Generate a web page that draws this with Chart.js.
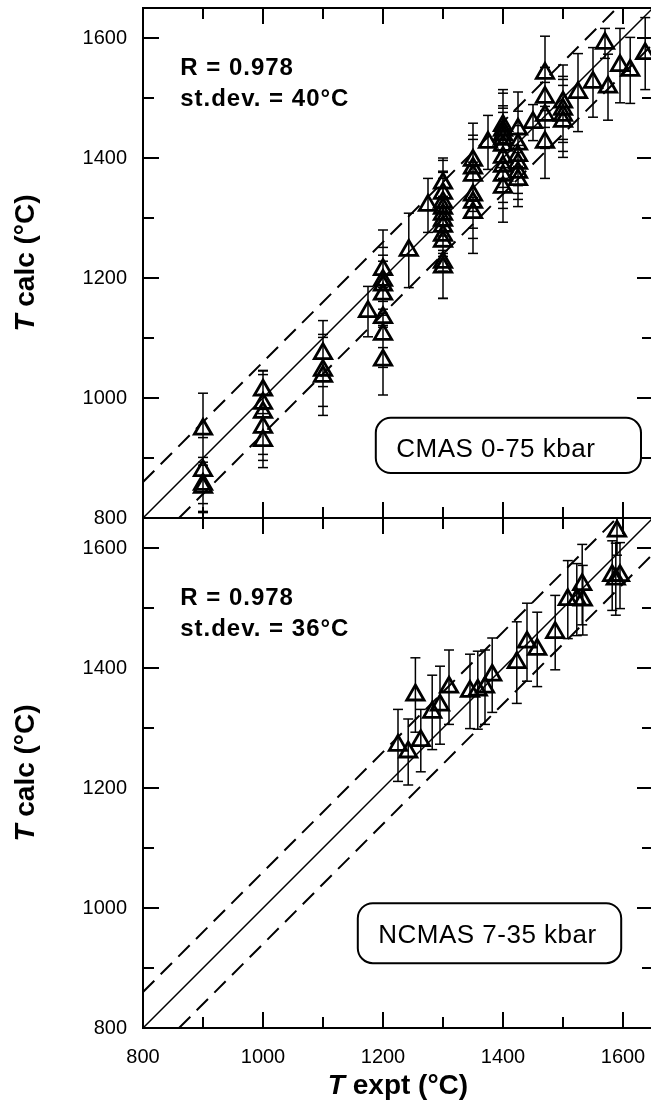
<!DOCTYPE html>
<html>
<head>
<meta charset="utf-8">
<script src="https://cdn.jsdelivr.net/npm/chart.js@4.4.0/dist/chart.umd.min.js"></script>
<style>
	html, body { margin: 0; padding: 0; background: #fff; overflow: hidden; }
	#wrap { position: relative; width: 651px; height: 1103px; overflow: hidden; }
	.panel { position: absolute; left: 0; width: 660px; }
	#panel_top { top: 0; height: 530px; }
	#panel_bottom { top: 510px; height: 593px; }
</style>
</head>
<body>
<div id="wrap">
	<div class="panel" id="panel_top"><canvas id="cmas_chart"></canvas></div>
	<div class="panel" id="panel_bottom"><canvas id="ncmas_chart"></canvas></div>
</div>
<script>
// axis range and tick marks (same for both panels and both axes)
const axisMin = 800;
const axisMax = 1650;
const tickValues = [800, 900, 1000, 1100, 1200, 1300, 1400, 1500, 1600];

// 1:1 line and the +/- band shown dashed
const oneToOne = [800, 1650];
const bandOffset = 60;

// CMAS 0-75 kbar : experimental T, calculated T, error bar half-length
const cmasExpt = [
	900, 900, 900, 900,
	1000, 1000, 1000, 1000, 1000,
	1100, 1100, 1100,
	1175,
	1200, 1200, 1200, 1200, 1200, 1200, 1200,
	1243, 1275,
	1300, 1300, 1300, 1300, 1300, 1300, 1300, 1300, 1300, 1300, 1300,
	1350, 1350, 1350, 1350, 1350, 1350,
	1375,
	1400, 1400, 1400, 1400, 1400, 1400, 1400, 1400, 1400,
	1425, 1425, 1425, 1425, 1425, 1425,
	1450,
	1470, 1470, 1470, 1470,
	1500, 1500, 1500, 1500,
	1525, 1550, 1570, 1575, 1595, 1612, 1637
];
const cmasCalc = [
	948, 879, 856, 851,
	1013, 991, 976, 951, 929,
	1074, 1046, 1036,
	1144,
	1214, 1196, 1188, 1173, 1134, 1106, 1063,
	1246, 1321,
	1358, 1341, 1326, 1316, 1306, 1296, 1286, 1271, 1261, 1226, 1218,
	1396, 1383, 1371, 1338, 1326, 1309,
	1426,
	1454, 1446, 1439, 1431, 1421, 1401, 1386, 1371, 1351,
	1448, 1423, 1404, 1391, 1376, 1364,
	1459,
	1541, 1501, 1471, 1426,
	1493, 1481, 1471, 1461,
	1509, 1526, 1591, 1518, 1554, 1546, 1574
];
const cmasErr = [
	60, 55, 45, 42,
	32, 48, 70, 55, 45,
	55, 60, 65,
	42,
	66, 55, 50, 55, 50, 55, 58,
	62, 45,
	42, 55, 50, 62, 60, 55, 50, 60, 50, 60, 52,
	62, 55, 60, 55, 60, 68,
	45,
	60, 62, 48, 52, 55, 50, 60, 55, 58,
	62, 55, 50, 50, 45, 45,
	30,
	62, 50, 55, 60,
	62, 55, 60, 60,
	65, 58, 25, 55, 62, 55, 60
];

// NCMAS 7-35 kbar
const ncmasExpt = [
	1225, 1242, 1263, 1254, 1282, 1295, 1310, 1345, 1358, 1370, 1382,
	1423, 1440, 1457, 1487, 1508, 1523, 1532, 1533, 1582, 1595, 1588, 1590
];
const ncmasCalc = [
	1271, 1260, 1279, 1355, 1326, 1338, 1368, 1361, 1363, 1368, 1388,
	1409, 1443, 1431, 1459, 1514, 1514, 1539, 1513, 1554, 1554, 1548, 1628
];
const ncmasErr = [
	60, 55, 52, 62, 62, 65, 62, 62, 65, 62, 62,
	68, 65, 62, 62, 65, 60, 67, 58, 58, 55, 60, 40
];

const FONT = '"Liberation Sans", Arial, Helvetica, sans-serif';

function to_points(xs, ys) {
	return xs.map((x, i) => ({x: x, y: ys[i]}));
}

function error_segments(xs, ys, es) {
	let pts = [];
	xs.forEach((x, i) => {
		pts.push({x: x, y: ys[i] - es[i]});
		pts.push({x: x, y: ys[i] + es[i]});
		pts.push({x: x, y: null});
	});
	return pts;
}

function error_caps(xs, ys, es) {
	let pts = [];
	xs.forEach((x, i) => {
		pts.push({x: x, y: ys[i] - es[i]});
		pts.push({x: x, y: ys[i] + es[i]});
	});
	return pts;
}

function draw_title(ctx, cx, cy, rotate, size) {
	const t1 = 'T';
	const t2 = (rotate ? ' calc (°C)' : ' expt (°C)');
	ctx.save();
	ctx.translate(cx, cy);
	if (rotate) ctx.rotate(-Math.PI / 2);
	ctx.textBaseline = 'alphabetic';
	ctx.textAlign = 'left';
	ctx.font = 'italic bold ' + size + 'px ' + FONT;
	const w1 = ctx.measureText(t1).width;
	ctx.font = 'bold ' + size + 'px ' + FONT;
	const w2 = ctx.measureText(t2).width;
	let start = -(w1 + w2) / 2;
	ctx.font = 'italic bold ' + size + 'px ' + FONT;
	ctx.fillText(t1, start, 0);
	ctx.font = 'bold ' + size + 'px ' + FONT;
	ctx.fillText(t2, start + w1, 0);
	ctx.restore();
}

const panel_decor = {
	id: 'panel_decor',
	afterDraw(chart, args, o) {
		const ctx = chart.ctx;
		const a = chart.chartArea;
		const xs = chart.scales.x;
		const ys = chart.scales.y;
		ctx.save();
		ctx.strokeStyle = '#000';
		ctx.fillStyle = '#000';

		// frame and inward ticks on all four sides
		ctx.lineWidth = 2;
		ctx.strokeRect(a.left, a.top, a.right - a.left, a.bottom - a.top);
		ctx.beginPath();
		tickValues.forEach(v => {
			const len = v % 200 === 0 ? 16 : 11;
			const px = xs.getPixelForValue(v);
			const py = ys.getPixelForValue(v);
			ctx.moveTo(a.left, py); ctx.lineTo(a.left + len, py);
			ctx.moveTo(a.right, py); ctx.lineTo(a.right - len, py);
			ctx.moveTo(px, a.top); ctx.lineTo(px, a.top + len);
			ctx.moveTo(px, a.bottom); ctx.lineTo(px, a.bottom - len);
		});
		ctx.stroke();

		// statistics
		ctx.font = 'bold 24px ' + FONT;
		ctx.letterSpacing = '1px';
		ctx.textAlign = 'left';
		ctx.textBaseline = 'alphabetic';
		const sx = xs.getPixelForValue(o.statsX);
		const sy = ys.getPixelForValue(o.statsY);
		ctx.fillText(o.rText, sx, sy);
		ctx.fillText(o.sdText, sx, sy + 31);

		// rounded label box
		const bx1 = xs.getPixelForValue(o.box[0]);
		const bx2 = xs.getPixelForValue(o.box[1]);
		const by1 = ys.getPixelForValue(o.box[2]);
		const by2 = ys.getPixelForValue(o.box[3]);
		ctx.lineWidth = 2;
		ctx.beginPath();
		ctx.roundRect(bx1, by1, bx2 - bx1, by2 - by1, 15);
		ctx.stroke();
		ctx.font = '26px ' + FONT;
		ctx.letterSpacing = '0.5px';
		ctx.fillText(o.boxText, xs.getPixelForValue(o.boxTextAt[0]), ys.getPixelForValue(o.boxTextAt[1]));
		ctx.letterSpacing = '0px';

		// axis titles
		draw_title(ctx, 34, (a.top + a.bottom) / 2, true, 28);
		if (o.xTitle) {
			draw_title(ctx, (a.left + a.right) / 2, a.bottom + 66, false, 28);
		}
		ctx.restore();
	}
};

function make_panel(canvas_id, expt, calc, err, decor, show_x) {
	const datasets = [
		{
			label: 'T calc',
			data: to_points(expt, calc),
			pointStyle: 'triangle',
			pointRadius: 10,
			borderWidth: 2.8,
			borderColor: '#000',
			backgroundColor: 'rgba(0,0,0,0)',
			order: 0
		},
		{
			label: 'caps',
			data: error_caps(expt, calc, err),
			pointStyle: 'line',
			pointRadius: 5,
			borderWidth: 1.5,
			borderColor: '#000',
			order: 1
		},
		{
			label: 'error',
			data: error_segments(expt, calc, err),
			showLine: true,
			spanGaps: false,
			pointRadius: 0,
			borderWidth: 1.5,
			borderColor: '#000',
			order: 2
		},
		{
			label: '1:1',
			data: to_points(oneToOne, oneToOne),
			showLine: true,
			pointRadius: 0,
			borderWidth: 1.5,
			borderColor: '#000',
			order: 3
		},
		{
			label: 'upper',
			data: to_points(oneToOne, oneToOne.map(v => v + bandOffset)),
			showLine: true,
			pointRadius: 0,
			borderWidth: 2,
			borderDash: [16, 9],
			borderColor: '#000',
			order: 3
		},
		{
			label: 'lower',
			data: to_points(oneToOne.map(v => v + bandOffset), oneToOne),
			showLine: true,
			pointRadius: 0,
			borderWidth: 2,
			borderDash: [16, 9],
			borderColor: '#000',
			order: 3
		}
	];

	const tick_label = v => (v % 200 === 0 ? String(v) : '');
	const fixed_ticks = s => {
		s.ticks = tickValues.map(v => ({value: v}));
	};

	return new Chart(document.getElementById(canvas_id), {
		type: 'scatter',
		data: {datasets: datasets},
		plugins: [panel_decor],
		options: {
			responsive: true,
			maintainAspectRatio: false,
			animation: false,
			devicePixelRatio: 1,
			events: [],
			layout: {
				autoPadding: false,
				padding: {top: 8, right: 7, bottom: show_x ? 0 : 12, left: 0}
			},
			plugins: {
				legend: {display: false},
				tooltip: {enabled: false},
				panel_decor: decor
			},
			scales: {
				x: {
					type: 'linear',
					min: axisMin,
					max: axisMax,
					display: show_x,
					grid: {display: false, drawTicks: false},
					border: {display: false},
					afterBuildTicks: fixed_ticks,
					ticks: {
						autoSkip: false,
						maxRotation: 0,
						padding: 17,
						color: '#000',
						font: {family: FONT, size: 20},
						callback: tick_label
					},
					afterFit: s => {
						s.height = show_x ? 75 : 0;
						s.paddingLeft = 0;
						s.paddingRight = 0;
					}
				},
				y: {
					type: 'linear',
					min: axisMin,
					max: axisMax,
					grid: {display: false, drawTicks: false},
					border: {display: false},
					afterBuildTicks: fixed_ticks,
					ticks: {
						autoSkip: false,
						padding: 16,
						color: '#000',
						font: {family: FONT, size: 20, lineHeight: 0.7},
						callback: tick_label
					},
					afterFit: s => {
						s.width = 143;
						s.paddingTop = 0;
						s.paddingBottom = 0;
					}
				}
			}
		}
	});
}

make_panel('cmas_chart', cmasExpt, cmasCalc, cmasErr, {
	rText: 'R = 0.978',
	sdText: 'st.dev. = 40°C',
	statsX: 862,
	statsY: 1538,
	boxText: 'CMAS 0-75 kbar',
	box: [1188, 1630, 967, 875],
	boxTextAt: [1222, 902],
	xTitle: false
}, false);

make_panel('ncmas_chart', ncmasExpt, ncmasCalc, ncmasErr, {
	rText: 'R = 0.978',
	sdText: 'st.dev. = 36°C',
	statsX: 862,
	statsY: 1505,
	boxText: 'NCMAS 7-35 kbar',
	box: [1158, 1597, 1008, 908],
	boxTextAt: [1192, 942],
	xTitle: true
}, true);
</script>
</body>
</html>
